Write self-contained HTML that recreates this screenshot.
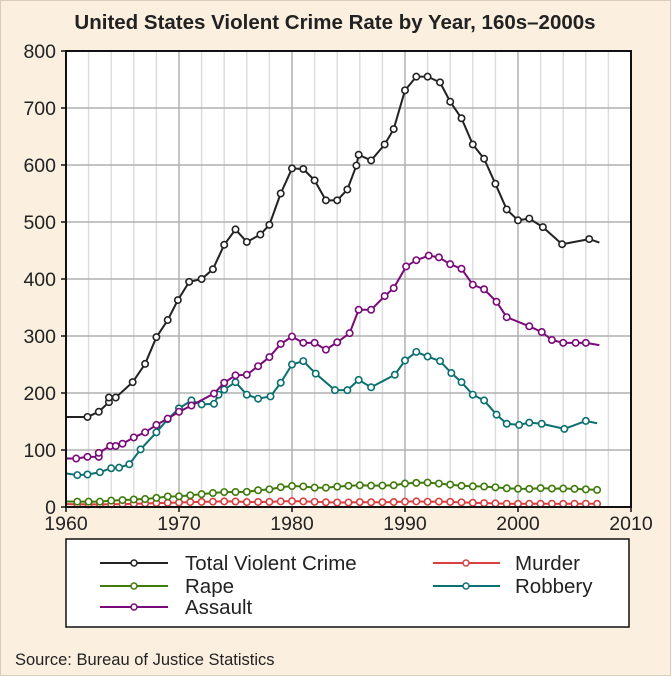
<!DOCTYPE html>
<html><head><meta charset="utf-8">
<style>
body{margin:0;background:#fbf0e0;}
svg{display:block;font-family:"Liberation Sans",sans-serif;}
</style></head>
<body>
<svg id="chart" width="671" height="676" viewBox="0 0 671 676">
<rect x="0.5" y="0.5" width="670" height="675" fill="#fbf0e0" stroke="#d8cbb8"/>
<text x="335" y="29" text-anchor="middle" font-size="20.5" font-weight="bold" fill="#222">United States Violent Crime Rate by Year, 160s–2000s</text>
<rect x="66" y="51" width="565" height="456" fill="#fff"/>
<g id="grid"></g>
<g id="series"></g>
<g id="axes"></g>
<g>
<rect x="66" y="539" width="563" height="88" fill="#fff" stroke="#111" stroke-width="1.5"/>
<g><line x1="100" y1="563" x2="168" y2="563" stroke="#222" stroke-width="2"/><circle cx="134" cy="563" r="3" fill="#fff" stroke="#222" stroke-width="1.5"/><text x="185" y="570" font-size="20.5" fill="#222">Total Violent Crime</text></g>
<g><line x1="100" y1="586" x2="168" y2="586" stroke="#3f7a0a" stroke-width="2"/><circle cx="134" cy="586" r="3" fill="#fff" stroke="#3f7a0a" stroke-width="1.5"/><text x="185" y="593" font-size="20.5" fill="#222">Rape</text></g>
<g><line x1="100" y1="607" x2="168" y2="607" stroke="#7a0a7a" stroke-width="2"/><circle cx="134" cy="607" r="3" fill="#fff" stroke="#7a0a7a" stroke-width="1.5"/><text x="185" y="614" font-size="20.5" fill="#222">Assault</text></g>
<g><line x1="433" y1="563" x2="500" y2="563" stroke="#d94040" stroke-width="2"/><circle cx="466" cy="563" r="3" fill="#fff" stroke="#d94040" stroke-width="1.5"/><text x="515" y="570" font-size="20.5" fill="#222">Murder</text></g>
<g><line x1="433" y1="586" x2="500" y2="586" stroke="#0a7070" stroke-width="2"/><circle cx="466" cy="586" r="3" fill="#fff" stroke="#0a7070" stroke-width="1.5"/><text x="515" y="593" font-size="20.5" fill="#222">Robbery</text></g>
</g>
<text x="15" y="665" font-size="16.5" fill="#222">Source: Bureau of Justice Statistics</text>
</svg>
<script>
const xTicks=[1960,1970,1980,1990,2000,2010];
const yTicks=[0,100,200,300,400,500,600,700,800];
const totalYears=[1960,1961.9,1962.9,1963.8,1963.8,1964.4,1965.9,1967,1968,1969,1969.9,1970.9,1972,1973,1974,1975,1976,1977.2,1978,1979,1980,1981,1982,1983,1984,1984.9,1985.7,1985.9,1987,1988.2,1989,1990,1991,1992,1993.1,1994,1995,1996,1997,1998,1999,2000,2001,2002.2,2003.9,2006.3,2007.2];
const totalValues=[158,158,167,184,192,192,219,251,298,328,363,395,400,417,460,487,465,478,495,550,594,593,573,538,538,557,599,618,608,636,663,731,755,755,745,711,682,636,611,567,522,503,506,491,461,470,464];
const assaultYears=[1960,1960.9,1961.9,1962.9,1962.9,1963.9,1964.4,1965,1966,1967,1968,1969,1970,1971.1,1973.1,1974,1975,1976,1977,1978,1979,1980,1981,1982,1983,1984,1985.1,1985.9,1987,1988.2,1989,1990.1,1991,1992.1,1993,1994,1995,1996,1997,1998.1,1999,2001,2002.1,2003,2004,2005.1,2006,2007.2];
const assaultValues=[85,85,88,88,95,107,107,111,122,131,144,155,167,178,199,218,231,232,247,263,286,299,288,288,276,289,305,346,346,370,384,422,433,441,438,426,418,390,382,360,333,317,307,293,288,288,288,284];
const robberyYears=[1960,1961,1961.9,1963,1964,1964.7,1965.6,1966.6,1968,1969,1970,1971.1,1972,1973.1,1973.5,1974,1975,1976,1977,1978.1,1979,1980,1981,1982.1,1983.8,1984.9,1985.9,1987,1989.1,1990,1991,1992,1993.1,1994.1,1995,1996,1997,1998.1,1999,2000.1,2001,2002.1,2004.1,2006,2007];
const robberyValues=[59,56,57,61,68,69,75,101,131,154,173,187,180,181,197,206,219,197,190,194,218,250,256,234,205,205,223,210,232,257,272,264,256,235,219,197,187,162,146,144,148,146,137,151,147];
const annualYears=[1960,1961,1962,1963,1964,1965,1966,1967,1968,1969,1970,1971,1972,1973,1974,1975,1976,1977,1978,1979,1980,1981,1982,1983,1984,1985,1986,1987,1988,1989,1990,1991,1992,1993,1994,1995,1996,1997,1998,1999,2000,2001,2002,2003,2004,2005,2006,2007];
const rapeValues=[9.6,9.4,9.4,9.4,11.2,12.1,13.2,14,15.9,18.5,18.7,20.5,22.5,24.5,26.2,26.3,26.6,29.4,31,34.7,36.8,36,34,33.8,35.7,37.1,38.1,37.4,37.6,38.1,41.2,42.3,42.8,41.1,39.3,37.1,36.3,35.9,34.5,32.8,32,31.8,33.1,32.3,32.4,31.8,30.9,30];
const murderValues=[5.1,4.8,4.6,4.6,4.9,5.1,5.6,6.2,6.9,7.3,7.9,8.6,9,9.4,9.8,9.6,8.7,8.8,9,9.8,10.2,9.8,9.1,8.3,7.9,8,8.6,8.3,8.4,8.7,9.4,9.8,9.3,9.5,9,8.2,7.4,6.8,6.3,5.7,5.5,5.6,5.6,5.7,5.5,5.6,5.7,5.6];

const NS="http://www.w3.org/2000/svg";
const X0=66,X1=631,Y0=507,Y1=51;
function xs(v){return X0+(v-1960)/50*(X1-X0);}
function ys(v){return Y0-(v/800)*(Y0-Y1);}
function mk(tag,attrs,parent){const e=document.createElementNS(NS,tag);for(const k in attrs)e.setAttribute(k,attrs[k]);parent.appendChild(e);return e;}
const grid=document.getElementById('grid'),axes=document.getElementById('axes'),ser=document.getElementById('series');
for(let yr=1962;yr<2010;yr+=2){if(yr%10===0)continue;
 const l=mk('line',{x1:xs(yr),x2:xs(yr),y1:Y1,y2:Y0,stroke:'#ddd','stroke-width':1.5},grid);
 
 }
yTicks.forEach(t=>{if(t===0)return;
 const l=mk('line',{x1:X0,x2:X1,y1:ys(t),y2:ys(t),stroke:'#b0b0b0','stroke-width':1.5},grid);
 
 });
xTicks.forEach(t=>{if(t===1960||t===2010)return;
 const l=mk('line',{x1:xs(t),x2:xs(t),y1:Y1,y2:Y0,stroke:'#b0b0b0','stroke-width':1.5},grid);
 
 });
function drawSeries(name,years,vals,color){
 const g=mk('g',{},ser);
 
 
 const pts=years.map((y,i)=>xs(y)+','+ys(vals[i])).join(' ');
 const pl=mk('polyline',{points:pts,fill:'none',stroke:color,'stroke-width':2,'stroke-linejoin':'round'},g);
 
 
 years.forEach((y,i)=>{if(i===0||i===years.length-1&&name!=='rape'&&name!=='murder')return;
  const c=mk('circle',{cx:xs(y),cy:ys(vals[i]),r:3.2,fill:'#fff',stroke:color,'stroke-width':1.6},g);
  
  });
}
drawSeries('murder',annualYears,murderValues,'#d94040');
drawSeries('rape',annualYears,rapeValues,'#3f7a0a');
drawSeries('robbery',robberyYears,robberyValues,'#0a7070');
drawSeries('assault',assaultYears,assaultValues,'#7a0a7a');
drawSeries('total',totalYears,totalValues,'#222');
const frame=mk('rect',{x:X0,y:Y1,width:X1-X0,height:Y0-Y1,fill:'none',stroke:'#111','stroke-width':2},axes);


xTicks.forEach(t=>{
 const tx=mk('text',{x:xs(t),y:Y0+23,'text-anchor':'middle','font-size':19.5,fill:'#222'},axes);
 tx.textContent=t;
 
 
 const tl=mk('line',{x1:xs(t),x2:xs(t),y1:Y0,y2:Y0+5,stroke:'#111','stroke-width':1.5},axes);
 
 });
yTicks.forEach(t=>{
 const tx=mk('text',{x:X0-10,y:ys(t)+7,'text-anchor':'end','font-size':19.5,fill:'#222'},axes);
 tx.textContent=t;
 
 
 const tl=mk('line',{x1:X0-5,x2:X0,y1:ys(t),y2:ys(t),stroke:'#111','stroke-width':1.5},axes);
 
 });
</script>
</body></html>
